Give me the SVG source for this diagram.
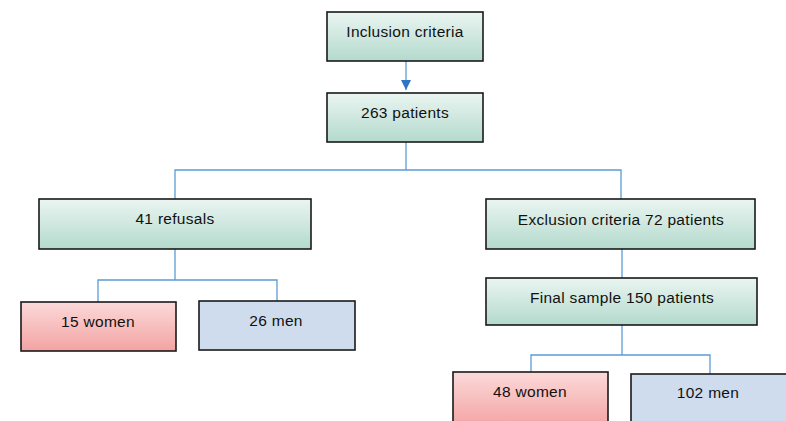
<svg xmlns="http://www.w3.org/2000/svg" width="786" height="421" viewBox="0 0 786 421">
  <defs>
    <linearGradient id="gGreen" x1="0" y1="0" x2="0" y2="1">
      <stop offset="0" stop-color="#eaf5f1"/>
      <stop offset="1" stop-color="#b4dacd"/>
    </linearGradient>
    <linearGradient id="gPink" x1="0" y1="0" x2="0" y2="1">
      <stop offset="0" stop-color="#fcd9d9"/>
      <stop offset="1" stop-color="#f3a3a3"/>
    </linearGradient>
    <marker id="arrow" viewBox="0 0 10 10" refX="10" refY="5" markerWidth="10" markerHeight="10" markerUnits="userSpaceOnUse" orient="auto">
      <path d="M0,0 L10,5 L0,10 z" fill="#2e75c6"/>
    </marker>
  </defs>
  <style>
    .box { stroke: #1a1a1a; stroke-width: 1.6; }
    .green { fill: url(#gGreen); }
    .pink { fill: url(#gPink); }
    .blue { fill: #cfdcee; }
    .lbl { font-family: "Liberation Sans", Arial, sans-serif; font-size: 15.5px; letter-spacing: 0.3px; fill: #111; text-anchor: middle; }
    .conn { fill: none; stroke: #5b9bd5; stroke-width: 1.3; }
  </style>
  <rect width="786" height="421" fill="#ffffff"/>

  <g id="connectors">
    <line class="conn" x1="406" y1="61" x2="406" y2="90" stroke="#2e75c6" marker-end="url(#arrow)"/>
    <polyline class="conn" points="406,142 406,170"/>
    <polyline class="conn" points="175,199 175,170 621,170 621,199"/>
    <polyline class="conn" points="175,249 175,280"/>
    <polyline class="conn" points="98,302 98,280 277,280 277,301"/>
    <polyline class="conn" points="622,249 622,278"/>
    <polyline class="conn" points="622,325 622,355"/>
    <polyline class="conn" points="531,372 531,355 710,355 710,374"/>
  </g>

  <g id="inclusion">
    <rect class="box green" x="327" y="12" width="156" height="49"/>
    <text class="lbl" x="405" y="37">Inclusion criteria</text>
  </g>
  <g id="patients263">
    <rect class="box green" x="327" y="93" width="156" height="49"/>
    <text class="lbl" x="405" y="118">263 patients</text>
  </g>
  <g id="refusals">
    <rect class="box green" x="39" y="199" width="272" height="50"/>
    <text class="lbl" x="175" y="224">41 refusals</text>
  </g>
  <g id="women15">
    <rect class="box pink" x="21" y="302" width="155" height="49"/>
    <text class="lbl" x="98" y="327">15 women</text>
  </g>
  <g id="men26">
    <rect class="box blue" x="199" y="301" width="156" height="49"/>
    <text class="lbl" x="276" y="326">26 men</text>
  </g>
  <g id="exclusion">
    <rect class="box green" x="486" y="199" width="269" height="50"/>
    <text class="lbl" x="621" y="225">Exclusion criteria 72 patients</text>
  </g>
  <g id="finalSample">
    <rect class="box green" x="486" y="278" width="271" height="47"/>
    <text class="lbl" x="622" y="303">Final sample 150 patients</text>
  </g>
  <g id="women48">
    <rect class="box pink" x="453" y="372" width="155" height="55"/>
    <text class="lbl" x="530" y="397">48 women</text>
  </g>
  <g id="men102">
    <rect class="box blue" x="631" y="374" width="160" height="55"/>
    <text class="lbl" x="708" y="398">102 men</text>
  </g>
</svg>
